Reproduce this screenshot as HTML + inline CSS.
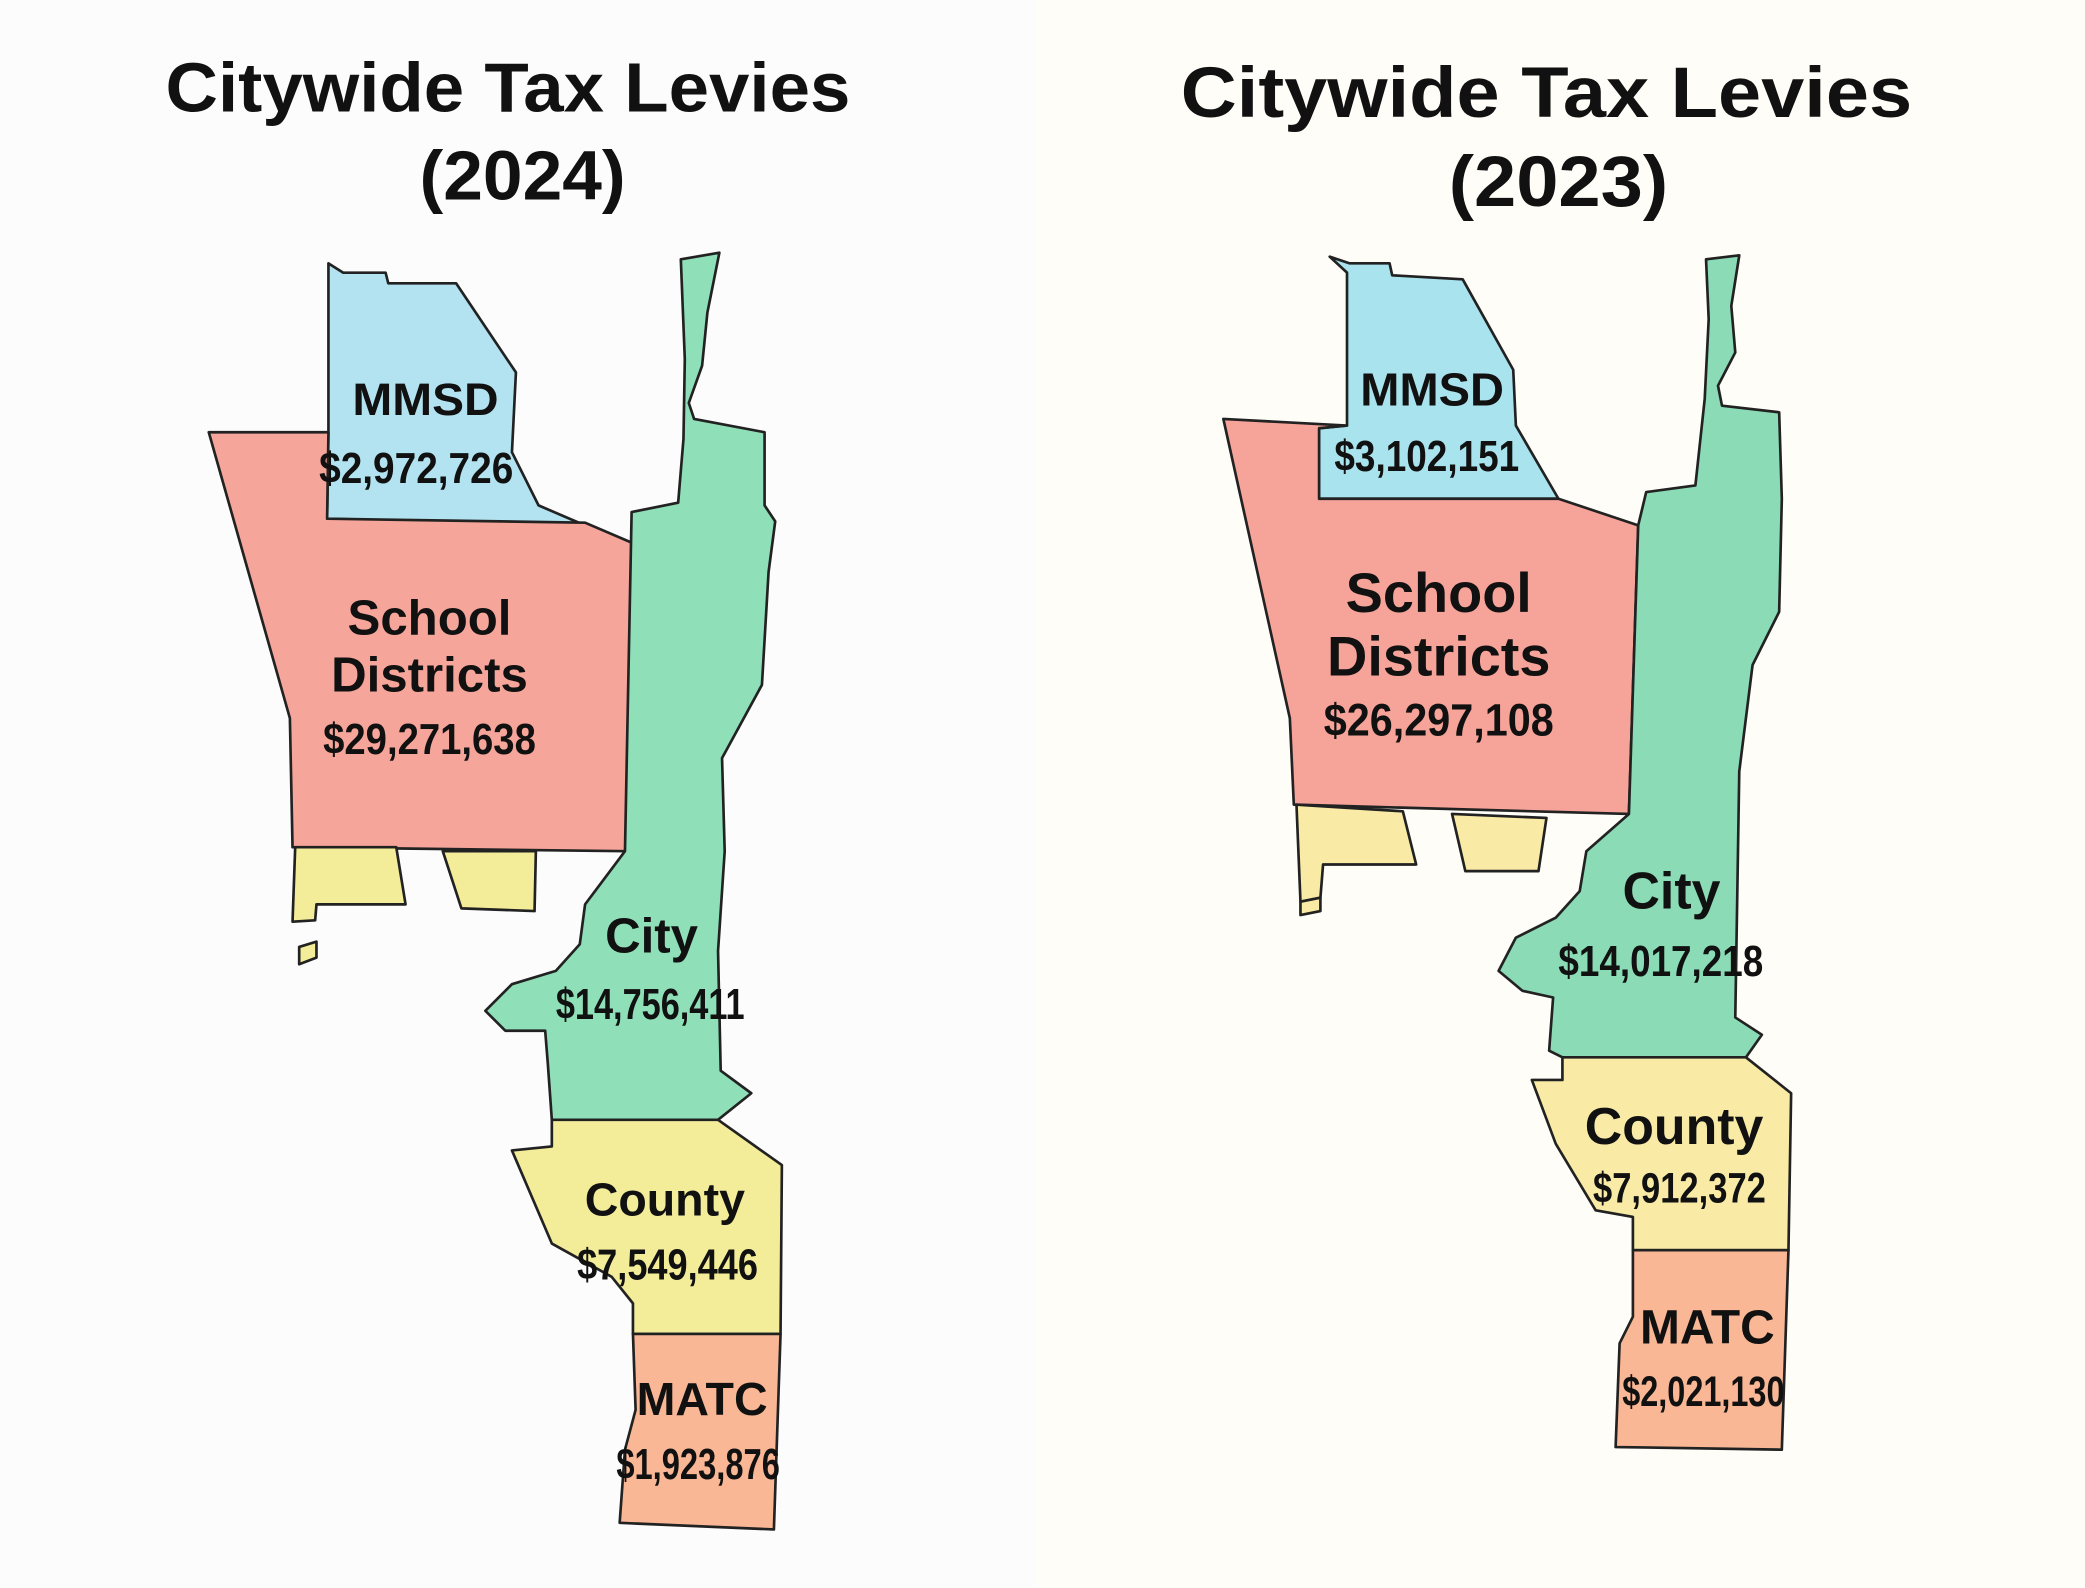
<!DOCTYPE html>
<html><head><meta charset="utf-8"><style>
html,body{margin:0;padding:0;width:2085px;height:1588px;overflow:hidden;background:#fdfdfd}
svg{display:block}
.t{font-family:"Liberation Sans",sans-serif;font-weight:bold;fill:#111;text-anchor:middle}
.n{font-family:"Liberation Sans",sans-serif;font-weight:bold;fill:#111;text-anchor:middle}
polygon{stroke:#222;stroke-width:2;stroke-linejoin:round}
</style></head><body>
<svg width="2085" height="1588" viewBox="0 0 1568 1194" preserveAspectRatio="none">
<rect x="0" y="0" width="780" height="1194" fill="#fcfcfc"/>
<rect x="780" y="0" width="788" height="1194" fill="#fffdf8"/>
<text class="t" x="382" y="84" font-size="52" textLength="515" lengthAdjust="spacingAndGlyphs">Citywide Tax Levies</text>
<text class="t" x="393" y="150" font-size="52" textLength="155" lengthAdjust="spacingAndGlyphs">(2024)</text>
<text class="t" x="1163" y="88" font-size="54" textLength="550" lengthAdjust="spacingAndGlyphs">Citywide Tax Levies</text>
<text class="t" x="1172" y="155" font-size="54" textLength="165" lengthAdjust="spacingAndGlyphs">(2023)</text>

<!-- left map -->
<polygon fill="#b3e3f0" points="247,198 258,205 290,205 292,213 343,213 388,280 385,340 405,380 440,395 246,390 247,325"/>
<polygon fill="#f5a59a" points="157,325 247,325 246,390 440,393 475,408 471,640 220,637 218,540"/>
<polygon fill="#f3ed9a" points="222,637 298,637 305,680 238,680 237,692 220,693"/>
<polygon fill="#f3ed9a" points="333,640 403,640 402,685 347,683"/>
<polygon fill="#f3ed9a" points="225,712 238,708 238,720 225,725"/>
<polygon fill="#8fdfb8" points="512,195 541,190 532,235 528,275 518,303 522,315 575,325 575,380 583,392 578,430 573,515 543,570 545,640 540,715 542,805 565,822 540,842 415,842 412,800 410,775 380,775 365,760 385,740 418,730 436,710 440,680 470,640 475,385 510,378 514,330 515,270"/>
<polygon fill="#f3ed9a" points="415,842 540,842 588,876 587,1003 476,1003 476,980 460,960 415,935 385,865 415,862"/>
<polygon fill="#f9b795" points="476,1003 587,1003 582,1150 466,1145 470,1090 478,1060"/>
<text class="t" x="320" y="312" font-size="34" textLength="110" lengthAdjust="spacingAndGlyphs">MMSD</text>
<text class="n" x="313" y="363" font-size="33" textLength="146" lengthAdjust="spacingAndGlyphs">$2,972,726</text>
<text class="t" x="323" y="477" font-size="37">School</text>
<text class="t" x="323" y="520" font-size="37">Districts</text>
<text class="n" x="323" y="567" font-size="33" textLength="160" lengthAdjust="spacingAndGlyphs">$29,271,638</text>
<text class="t" x="490" y="716" font-size="37">City</text>
<text class="n" x="489" y="766" font-size="33" textLength="142" lengthAdjust="spacingAndGlyphs">$14,756,411</text>
<text class="t" x="500" y="914" font-size="35">County</text>
<text class="n" x="502" y="962" font-size="33" textLength="136" lengthAdjust="spacingAndGlyphs">$7,549,446</text>
<text class="t" x="528" y="1064" font-size="35">MATC</text>
<text class="n" x="525" y="1112" font-size="33" textLength="123" lengthAdjust="spacingAndGlyphs">$1,923,876</text>

<!-- right map -->
<polygon fill="#a9e4ee" points="1000,193 1015,198 1045,198 1047,207 1100,210 1138,278 1140,320 1172,375 992,375 992,322 1013,320 1013,205"/>
<polygon fill="#f6a399" points="920,315 1013,320 992,322 992,375 1172,375 1232,395 1225,612 973,605 970,540"/>
<polygon fill="#f9eba6" points="975,605 1055,610 1065,650 995,650 993,675 978,678"/>
<polygon fill="#f9eba6" points="1092,612 1163,615 1157,655 1102,655"/>
<polygon fill="#f9eba6" points="978,678 993,675 993,685 978,688"/>
<polygon fill="#8adbb6" points="1283,195 1308,192 1302,230 1305,265 1292,290 1295,305 1338,310 1340,375 1338,460 1318,500 1308,580 1305,765 1325,778 1313,795 1175,795 1165,790 1168,750 1145,745 1127,730 1140,705 1170,690 1188,670 1193,640 1225,612 1232,395 1238,370 1275,365 1282,300 1285,240"/>
<polygon fill="#f9eba6" points="1175,795 1313,795 1347,822 1345,940 1228,940 1228,915 1200,910 1170,860 1152,812 1175,812"/>
<polygon fill="#f9b795" points="1228,940 1345,940 1340,1090 1215,1088 1218,1010 1228,990"/>
<text class="t" x="1077" y="305" font-size="35" textLength="108" lengthAdjust="spacingAndGlyphs">MMSD</text>
<text class="n" x="1073" y="354" font-size="33" textLength="139" lengthAdjust="spacingAndGlyphs">$3,102,151</text>
<text class="t" x="1082" y="460" font-size="42">School</text>
<text class="t" x="1082" y="508" font-size="42">Districts</text>
<text class="n" x="1082" y="553" font-size="34" textLength="173" lengthAdjust="spacingAndGlyphs">$26,297,108</text>
<text class="t" x="1257" y="683" font-size="39">City</text>
<text class="n" x="1249" y="734" font-size="33" textLength="154" lengthAdjust="spacingAndGlyphs">$14,017,218</text>
<text class="t" x="1259" y="860" font-size="39">County</text>
<text class="n" x="1263" y="904" font-size="32" textLength="130" lengthAdjust="spacingAndGlyphs">$7,912,372</text>
<text class="t" x="1284" y="1010" font-size="36">MATC</text>
<text class="n" x="1281" y="1057" font-size="32" textLength="122" lengthAdjust="spacingAndGlyphs">$2,021,130</text>
</svg>
</body></html>
